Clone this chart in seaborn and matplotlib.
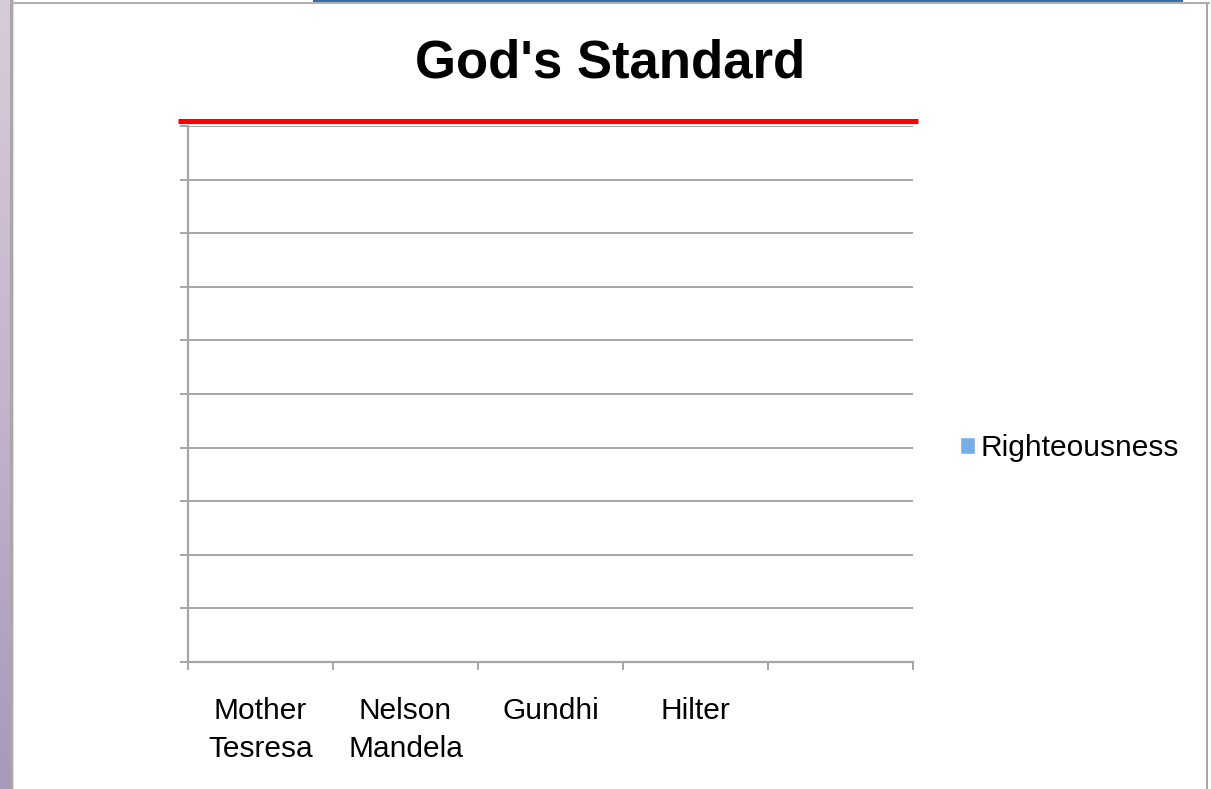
import numpy as np
import pandas as pd
import matplotlib
matplotlib.use("Agg")
import matplotlib.pyplot as plt
from matplotlib.patches import Rectangle
import seaborn as sns

# データ
people = ["Mother\nTesresa", "Nelson\nMandela", "Gundhi", "Hilter", " "]
righteousness = [0, 0, 0, 0, 0]
series_name = "Righteousness"
chart_title = "God's Standard"
god_standard = 10.1
y_max = 10

df = pd.DataFrame({"person": people, "score": righteousness, "series": series_name})

sns.set_style("white")
plt.rcParams["font.family"] = ["Liberation Sans", "DejaVu Sans"]
plt.rcParams["text.color"] = "black"
plt.rcParams["xtick.color"] = "black"

fig = plt.figure(figsize=(12.11, 7.89), dpi=100)
fig.patch.set_facecolor("white")

# 背景の枠（スライドの縁）
strip = fig.add_axes([0, 0, 10 / 1211, 1])
grad = np.linspace(0, 1, 200).reshape(-1, 1)
strip.imshow(grad, aspect="auto", cmap=matplotlib.colors.LinearSegmentedColormap.from_list(
    "lav", ["#d8ccd8", "#c4b4cc", "#a898bc"]), extent=[0, 1, 0, 1])
strip.axis("off")
fig.add_artist(Rectangle((10 / 1211, 0), 3 / 1211, 1, transform=fig.transFigure,
                         color="#a8a8a8", lw=0))
fig.add_artist(Rectangle((13 / 1211, 0), 1 / 1211, 1, transform=fig.transFigure,
                         color="#e0e0e0", lw=0))
fig.add_artist(Rectangle((10 / 1211, 1 - 4 / 789), 1200 / 1211, 2 / 789,
                         transform=fig.transFigure, color="#b0b0b0", lw=0))
fig.add_artist(Rectangle((313 / 1211, 1 - 2 / 789), 870 / 1211, 2 / 789,
                         transform=fig.transFigure, color="#3a6ea5", lw=0))
fig.add_artist(Rectangle((1206 / 1211, 0), 2 / 1211, 1 - 2 / 789,
                         transform=fig.transFigure, color="#a8a8a8", lw=0))

ax = fig.add_axes([188 / 1211, 127 / 789, 725 / 1211, 536 / 789])
sns.barplot(data=df, x="person", y="score", hue="series", palette=["#78aee6"],
            saturation=1, ax=ax, width=0.6)

ax.set_ylim(0, y_max)
ax.set_xlim(-0.5, len(people) - 0.5)
ax.set_yticks(np.arange(0, y_max + 1, 1))
ax.set_yticklabels([])
ax.yaxis.grid(True, color="#a6a6a6", lw=1.4)
ax.set_axisbelow(True)
ax.tick_params(axis="y", left=True, length=6, width=1.4, color="#a6a6a6")

# x軸: ラベルは中央、目盛りは区切り位置
ax.set_xticks(range(len(people)))
ax.set_xticklabels(people, fontsize=21.5, linespacing=1.45, color="black")
ax.tick_params(axis="x", length=0, pad=25)
ax.set_xticks(np.arange(-0.5, len(people), 1), minor=True)
ax.tick_params(axis="x", which="minor", bottom=True, length=6, width=1.4, color="#a6a6a6")

for side in ["top", "right"]:
    ax.spines[side].set_visible(False)
for side in ["left", "bottom"]:
    ax.spines[side].set_color("#a6a6a6")
    ax.spines[side].set_linewidth(1.6)
ax.set_xlabel("")
ax.set_ylabel("")

# 神の基準線
ax.axhline(god_standard - 0.02, xmin=-0.012, xmax=1.005, color="#b8b8b8", lw=2.5,
           clip_on=False, solid_capstyle="butt")
ax.axhline(god_standard, xmin=-0.0138, xmax=1.0069, color="#ff0000", lw=3.6,
           clip_on=False, solid_capstyle="butt")

ax.get_legend().remove()
handles, labels = ax.get_legend_handles_labels()
fig.legend(handles[:1], [series_name], loc="center left", bbox_to_anchor=(945 / 1211, 1 - 448 / 789),
           frameon=False, fontsize=21.5, handlelength=0.5, handleheight=0.5,
           handletextpad=0.2, borderpad=0, labelcolor="black")

fig.text(610 / 1211, 1 - 64 / 789, chart_title, ha="center", va="center",
         fontsize=38, fontweight="bold", color="black")

fig.savefig("out.png", dpi=100)
